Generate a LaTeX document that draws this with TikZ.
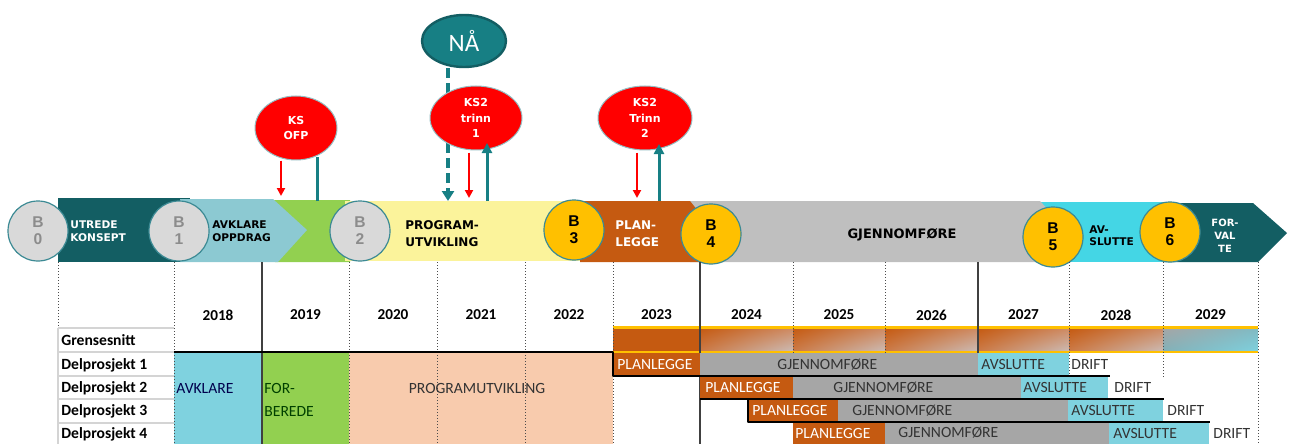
\documentclass[tikz,border=0pt]{standalone}
\usepackage{fontspec}
\setmainfont{Carlito}
\newfontfamily\barfont{DejaVu Sans}
\newfontfamily\gatefont{Liberation Sans}
\usetikzlibrary{arrows.meta,shapes.geometric,shadings,positioning}

\definecolor{tealdark}{HTML}{135E63}
\definecolor{avkblue}{HTML}{8CC9D2}
\definecolor{forgreen}{HTML}{92D050}
\definecolor{progyellow}{HTML}{FBF39B}
\definecolor{planorange}{HTML}{C55A11}
\definecolor{gjgray}{HTML}{BFBFBF}
\definecolor{avscyan}{HTML}{44D6E5}
\definecolor{gold}{HTML}{FFC000}
\definecolor{bgray}{HTML}{D9D9D9}
\definecolor{ringteal}{HTML}{3C8A94}
\definecolor{naateal}{HTML}{177F84}
\definecolor{rowblue}{HTML}{7FD2DF}
\definecolor{rowgray}{HTML}{A6A6A6}
\definecolor{peach}{HTML}{F8CBAD}
\definecolor{gridgray}{HTML}{D4D4D4}
\definecolor{gradmid}{HTML}{CF8A62}
\definecolor{gradlight}{HTML}{CBBDB8}

\tikzset{
  gate/.style={circle,minimum size=30pt,inner sep=0pt,draw=ringteal,line width=0.6pt,
    font=\gatefont\bfseries\fontsize{7.8}{8.5}\selectfont,align=center},
  gategray/.style={gate,fill=bgray,text=black!45},
  gategold/.style={gate,fill=gold,text=black},
  phase/.style={font=\barfont\bfseries\fontsize{5.3}{6.5}\selectfont,align=left,inner sep=0pt},
  ks/.style={ellipse,fill=red,draw=ringteal!55,line width=0.5pt,text=white,inner sep=0pt,
    font=\barfont\bfseries\fontsize{5.5}{7.75}\selectfont,align=center},
  downarr/.style={red,line width=1pt,-{Triangle[length=4pt,width=4pt]}},
  uparr/.style={naateal,line width=1.5pt,-{Triangle[length=5pt,width=5pt]}},
  lbl/.style={font=\bfseries\fontsize{7.8}{9}\selectfont,anchor=west,inner sep=0pt},
  yr/.style={font=\bfseries\fontsize{7.6}{9}\selectfont,inner sep=0pt},
  rowtxt/.style={font=\fontsize{7.8}{9}\selectfont,anchor=west,inner sep=0pt,text=black!80},
  dotline/.style={densely dotted,line width=0.5pt,black!70},
  solidline/.style={line width=0.6pt,black!75},
  shadow/.style={black,line width=1pt}
}

\begin{document}
\begin{tikzpicture}[x=0.5pt,y=-0.5pt,line join=round,font=\fontsize{7.8}{9}\selectfont]
\useasboundingbox (0,0) rectangle (1290,444);

% phase bar
\fill[tealdark] (58,198) rectangle (190,262);
\fill[forgreen] (270,200) -- (350,200) -- (350,262) -- (275,262) -- cycle;
\fill[avkblue] (180,199) -- (273,199) -- (307,230) -- (278,262) -- (180,262) -- cycle;
\fill[progyellow] (345,201) rectangle (590,261);
\fill[avscyan] (1030,202) rectangle (1170,262);
\fill[gjgray] (690,201) -- (1040,201) -- (1052,214) -- (1052,262) -- (690,262) -- cycle;
\fill[planorange] (580,201) -- (690,201) -- (702,216) -- (702,262) -- (580,262) -- cycle;
\fill[tealdark] (1163,203) -- (1253,203) -- (1287,233) -- (1258,262) -- (1163,262) -- cycle;

\node[phase,text=white,anchor=west] (utrede) at (70,231.5) {UTREDE\\KONSEPT};
\node[phase,anchor=west] (avklare) at (212,231.5) {AVKLARE\\OPPDRAG};
\node[phase,anchor=west,font=\barfont\bfseries\fontsize{6}{8.5}\selectfont] (program) at (405,233.5) {PROGRAM-\\UTVIKLING};
\node[phase,text=white,anchor=west,font=\barfont\bfseries\fontsize{6}{8.5}\selectfont] (plan) at (615,233.5) {PLAN-\\LEGGE};
\node[phase,font=\barfont\bfseries\fontsize{6.5}{8}\selectfont] (gjennom) at (902,235) {GJENNOMFØRE};
\node[phase,anchor=west,font=\barfont\bfseries\fontsize{5.3}{6}\selectfont] (avslutt) at (1089,236) {AV-\\SLUTTE};
\node[phase,text=white,align=center,font=\barfont\bfseries\fontsize{5}{6.5}\selectfont] (forvalt) at (1225,236) {FOR-\\VAL\\TE};

% gates
\node[gategray] (b0) at (38,231) {B\\0};
\node[gategray] (b1) at (179,231) {B\\1};
\node[gategray] (b2) at (360,231) {B\\2};
\node[gategold] (b3) at (574,230) {B\\3};
\node[gategold] (b4) at (711,234) {B\\4};
\node[gategold] (b5) at (1053,237) {B\\5};
\node[gategold] (b6) at (1170,232) {B\\6};

% now marker and decision points
\node[ellipse,fill=naateal,draw=tealdark,line width=1.2pt,minimum width=42pt,minimum height=26pt,
  inner sep=0pt,text=white,font=\fontsize{12.5}{13}\selectfont] (naa) at (464,41) {NÅ};
\coordinate (naaend) at (448,201);
\draw[naateal,line width=2pt,dash pattern=on 5pt off 2.5pt,-{Triangle[length=5pt,width=6pt]}]
  (naa.south -| naaend) -- (naaend);

\node[ks,minimum width=41pt,minimum height=32pt] (ksofp) at (296,128) {KS\\OFP};
\node[ks,minimum width=46pt,minimum height=32pt] (kstrinn1) at (476,118) {KS2\\trinn\\1};
\node[ks,minimum width=47pt,minimum height=32pt] (kstrinn2) at (645,118) {KS2\\Trinn\\2};

\coordinate (ofpdown) at (281,196);
\coordinate (ofpup) at (317,201);
\coordinate (t1down) at (469,198);
\coordinate (t1up) at (487,201);
\coordinate (t2down) at (637,198);
\coordinate (t2up) at (659,201);
\draw[downarr] ([xshift=-7.5pt]ksofp.south) -- (ofpdown);
\draw[naateal,line width=1.5pt] (ofpup) -- (ofpup |- 0,157);
\draw[downarr] ([xshift=-3.5pt,yshift=-1pt]kstrinn1.south) -- (t1down);
\draw[uparr] (t1up) -- (t1up |- 0,143);
\draw[downarr] ([xshift=-4pt,yshift=-1pt]kstrinn2.south) -- (t2down);
\draw[uparr] (t2up) -- (t2up |- 0,144);

% early phases in the table
\fill[rowblue] (174,353) rectangle (262,444);
\fill[forgreen] (262,353) rectangle (349,444);
\fill[peach] (349,353) rectangle (613,444);

% grensesnitt band
\fill[planorange] (613,328) rectangle (700,352);
\foreach \xa/\xb in {700/793,793/885,885/978,978/1069,1069/1163}
  \shade[upper left=planorange,upper right=gradmid,lower left=gradmid!70!planorange,lower right=gradlight]
    (\xa,328) rectangle (\xb,352);
\shade[upper left=gray!70,upper right=rowblue!70!gray,lower left=rowblue!60!gray,lower right=rowblue]
  (1163,328) rectangle (1258,352);
\draw[gold,line width=1.2pt] (613,327.5) -- (1258,327.5) (613,352) -- (1258,352);

% grid
\draw[dotline] (58,262) -- (58,328);
\foreach \gx in {174,349,437,525,613,793,885,1258}
  \draw[dotline] (\gx,262) -- (\gx,444);
\foreach \gx in {1069,1163}
  \draw[dotline] (\gx,262) -- (\gx,377);
\foreach \gx in {262,700,978}
  \draw[solidline] (\gx,262) -- (\gx,444);
\draw[gridgray,line width=0.8pt] (58,328) -- (58,444);
\foreach \gy in {328,352,376,399,423}
  \draw[gridgray,line width=0.8pt] (58,\gy) -- (174,\gy);

% sub-project bars
\foreach \xa/\xb/\ya/\yb/\cl in {613/700/353/376/planorange,700/978/353/376/rowgray,978/1069/353/376/rowblue,
    700/793/376/399/planorange,793/1021/376/399/rowgray,1021/1108/376/399/rowblue,
    748/838/399/422/planorange,838/1068/399/422/rowgray,1068/1163/399/422/rowblue,
    793/885/422/444/planorange,885/1109/422/444/rowgray,1109/1209/422/444/rowblue}
  \fill[\cl] (\xa,\ya) rectangle (\xb,\yb);
\draw[shadow] (174,352) -- (613,352) -- (613,376) -- (1110,376);
\draw[shadow] (700,399) -- (1164,399);
\draw[shadow] (748,399) -- (748,422) -- (1210,422);

% years
\foreach \xa/\xb/\yr in {174/262/2018,262/349/2019,349/437/2020,437/525/2021,525/613/2022,613/700/2023,
    700/793/2024,793/885/2025,885/978/2026,978/1069/2027,1069/1163/2028,1163/1258/2029}
  \node[yr] (y\yr) at ({(\xa+\xb)/2},315) {\yr};

% row labels
\node[lbl] (grense) at (61,340) {Grensesnitt};
\node[lbl] (dp1) at (61,365) {Delprosjekt 1};
\node[lbl] (dp2) at (61,388) {Delprosjekt 2};
\node[lbl] (dp3) at (61,411) {Delprosjekt 3};
\node[lbl] (dp4) at (61,434) {Delprosjekt 4};

\node[rowtxt,text=blue!30!black] (avk) at (176,388) {AVKLARE};
\node[rowtxt,text=black!75!green,align=left,font=\fontsize{7.8}{11.5}\selectfont,anchor=north west] (forb) at (264,383) {FOR-\\BEREDE};
\node[rowtxt,anchor=center] (prog) at (477,388) {PROGRAMUTVIKLING};

\node[rowtxt,text=white] (p1) at (617,364.5) {PLANLEGGE};
\node[rowtxt] (g1) at (777,364.5) {GJENNOMFØRE};
\node[rowtxt] (a1) at (981,364.5) {AVSLUTTE};
\node[rowtxt] (d1) at (1071,364.5) {DRIFT};
\node[rowtxt,text=white] (p2) at (705,387.5) {PLANLEGGE};
\node[rowtxt] (g2) at (833,387.5) {GJENNOMFØRE};
\node[rowtxt] (a2) at (1023,387.5) {AVSLUTTE};
\node[rowtxt] (d2) at (1114,387.5) {DRIFT};
\node[rowtxt,text=white] (p3) at (752,410.5) {PLANLEGGE};
\node[rowtxt] (g3) at (852,410.5) {GJENNOMFØRE};
\node[rowtxt] (a3) at (1071,410.5) {AVSLUTTE};
\node[rowtxt] (d3) at (1167,410.5) {DRIFT};
\node[rowtxt,text=white] (p4) at (795,433) {PLANLEGGE};
\node[rowtxt] (g4) at (898,433) {GJENNOMFØRE};
\node[rowtxt] (a4) at (1113,433) {AVSLUTTE};
\node[rowtxt] (d4) at (1213,433) {DRIFT};
\end{tikzpicture}
\end{document}
